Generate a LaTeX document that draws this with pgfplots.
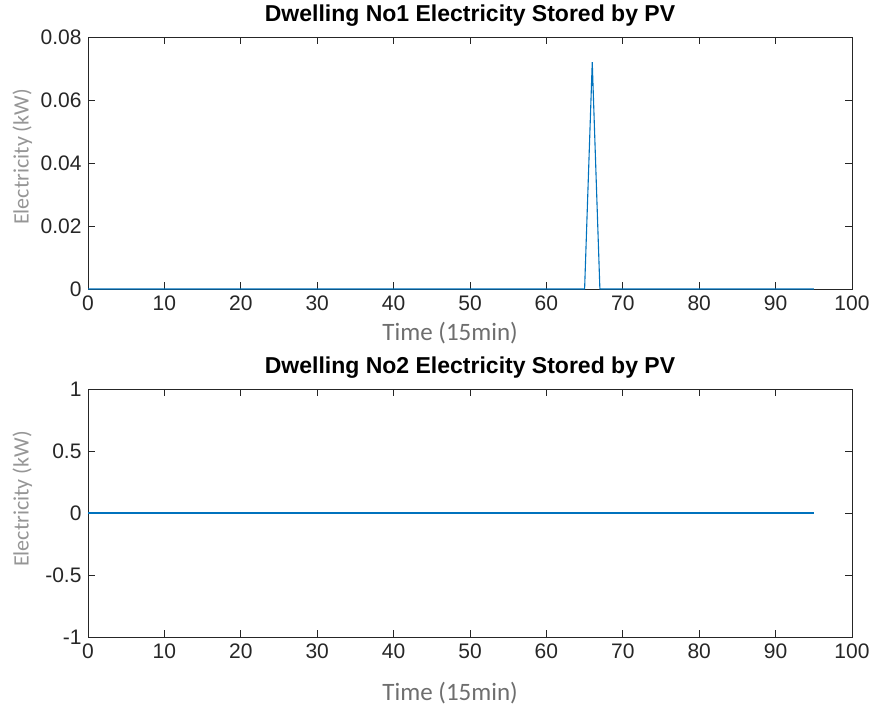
\documentclass[border=0pt]{standalone}
\usepackage{pgfplots}
\pgfplotsset{compat=1.18}
\usepackage{fontspec}
\setmainfont{Liberation Sans}
\newfontfamily\calfont{Carlito}
\definecolor{mblue}{RGB}{0,114,189}
\definecolor{axgray}{RGB}{38,38,38}
\definecolor{xlabgray}{RGB}{110,110,110}
\definecolor{ylabgray}{RGB}{150,150,150}
\pgfplotstableread{
x y
0 0
1 0
2 0
3 0
4 0
5 0
6 0
7 0
8 0
9 0
10 0
11 0
12 0
13 0
14 0
15 0
16 0
17 0
18 0
19 0
20 0
21 0
22 0
23 0
24 0
25 0
26 0
27 0
28 0
29 0
30 0
31 0
32 0
33 0
34 0
35 0
36 0
37 0
38 0
39 0
40 0
41 0
42 0
43 0
44 0
45 0
46 0
47 0
48 0
49 0
50 0
51 0
52 0
53 0
54 0
55 0
56 0
57 0
58 0
59 0
60 0
61 0
62 0
63 0
64 0
65 0
66 0.072
67 0
68 0
69 0
70 0
71 0
72 0
73 0
74 0
75 0
76 0
77 0
78 0
79 0
80 0
81 0
82 0
83 0
84 0
85 0
86 0
87 0
88 0
89 0
90 0
91 0
92 0
93 0
94 0
95 0
}\dwellingone
\pgfplotstableread{
x y
0 0
10 0
20 0
30 0
40 0
50 0
60 0
70 0
80 0
90 0
95 0
}\dwellingtwo
\pgfplotsset{
  mstyle/.style={
    width=764pt, scale only axis,
    xmin=0, xmax=100, xtick={0,10,...,100},
    scaled y ticks=false, scaled x ticks=false,
    tick align=inside,
    axis line style={axgray, line width=0.7pt},
    tick style={axgray, line width=0.7pt},
    major tick length=7pt,
    ticklabel style={font=\fontsize{21}{23}\selectfont, text=axgray},
    /pgf/number format/assume math mode=true,
    xticklabel style={yshift=-3pt},
    yticklabel style={xshift=-3pt},
    title style={font=\bfseries\fontsize{23}{26}\selectfont, at={(axis description cs:0.5,1)}, anchor=base, yshift=10pt},
    xlabel style={font=\calfont\fontsize{25}{28}\selectfont, text=xlabgray},
    ylabel style={font=\calfont\fontsize{22}{24}\selectfont, text=ylabgray},
  }
}
\begin{document}
\begin{tikzpicture}
\useasboundingbox (0pt,0pt) rectangle (875pt,713pt);
\begin{axis}[mstyle, at={(88pt,424pt)}, anchor=south west, height=252pt,
  ymin=0, ymax=0.08, ytick={0,0.02,0.04,0.06,0.08},
  yticklabels={0,0.02,0.04,0.06,0.08},
  title={Dwelling No1 Electricity Stored by PV},
  xlabel={Time (15min)}, ylabel={Electricity (kW)},
  xlabel style={at={(axis description cs:0.474,-0.175)}, anchor=center},
  ylabel style={at={(axis description cs:-0.086,0.524)}, anchor=center},
]
\addplot[mblue, line width=1.1pt] table[x=x,y=y] {\dwellingone};
\end{axis}
\begin{axis}[mstyle, at={(88pt,76pt)}, anchor=south west, height=248pt,
  ymin=-1, ymax=1, ytick={-1,-0.5,0,0.5,1},
  yticklabels={-1,-0.5,0,0.5,1},
  title={Dwelling No2 Electricity Stored by PV},
  xlabel={Time (15min)}, ylabel={Electricity (kW)},
  xlabel style={at={(axis description cs:0.474,-0.226)}, anchor=center},
  ylabel style={at={(axis description cs:-0.086,0.556)}, anchor=center},
]
\addplot[mblue, line width=1.1pt] table[x=x,y=y] {\dwellingtwo};
\end{axis}
\end{tikzpicture}
\end{document}
